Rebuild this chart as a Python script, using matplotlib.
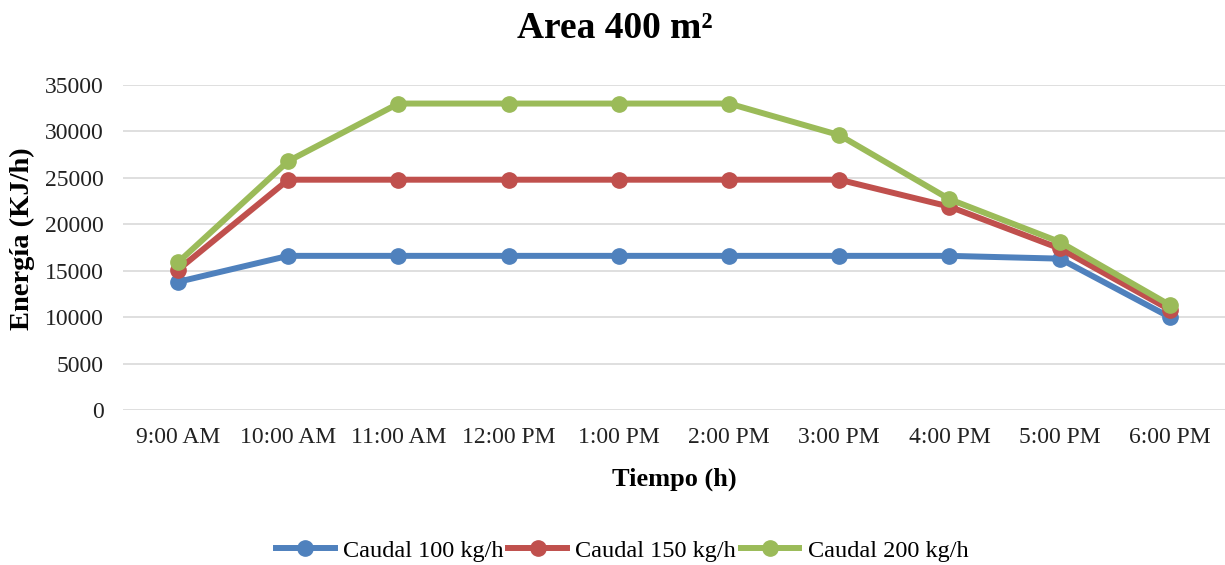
import matplotlib.pyplot as plt
import numpy as np

# hourly energy by mass flow
horas = ["9:00 AM", "10:00 AM", "11:00 AM", "12:00 PM", "1:00 PM",
         "2:00 PM", "3:00 PM", "4:00 PM", "5:00 PM", "6:00 PM"]
caudal_100 = [13800, 16600, 16600, 16600, 16600, 16600, 16600, 16600, 16300, 10000]
caudal_150 = [15100, 24800, 24800, 24800, 24800, 24800, 24800, 21900, 17400, 10800]
caudal_200 = [15900, 26800, 33000, 33000, 33000, 33000, 29600, 22700, 18100, 11300]

series_labels = ["Caudal 100 kg/h", "Caudal 150 kg/h", "Caudal 200 kg/h"]
series_colors = ["#4F81BD", "#C0504D", "#9BBB59"]

plt.rcParams["font.family"] = ["Liberation Serif", "DejaVu Serif"]

fig = plt.figure(figsize=(12.25, 5.65), dpi=100)
ax = fig.add_axes([0.1004, 0.2743, 0.8996, 0.5753])

x_pos = np.arange(len(horas))
for values, label, color in zip([caudal_100, caudal_150, caudal_200], series_labels, series_colors):
    ax.plot(x_pos, values, color=color, linewidth=4.3, marker="o",
            markersize=11, label=label, solid_joinstyle="round")

ax.set_xlim(-0.5, len(horas) - 0.5)
ax.set_ylim(0, 35000)
ax.set_yticks(np.arange(0, 35001, 5000))
ax.set_xticks(x_pos)
ax.set_xticklabels(horas)
ax.tick_params(axis="both", length=0, labelsize=17, colors="#222222")
ax.tick_params(axis="x", pad=12)
ax.tick_params(axis="y", pad=14)

ax.grid(axis="y", color="#D9D9D9", linewidth=1.2)
ax.set_axisbelow(True)
for side in ["top", "right", "left", "bottom"]:
    ax.spines[side].set_visible(False)

ax.set_xlabel("Tiempo (h)", fontsize=19, fontweight="bold", labelpad=14)
ax.set_ylabel("Energía (KJ/h)", fontsize=20.5, fontweight="bold")
ax.yaxis.set_label_coords(-0.08, 0.528)
fig.text(0.502, 0.95, "Area 400 m²", ha="center", va="center",
         fontsize=27, fontweight="bold")

fig.legend(loc="center", bbox_to_anchor=(0.508, 0.025), ncol=3, frameon=False,
           fontsize=17.5, handlelength=2.4, handletextpad=0.35, columnspacing=0.2)

fig.savefig("out.png", dpi=100)
